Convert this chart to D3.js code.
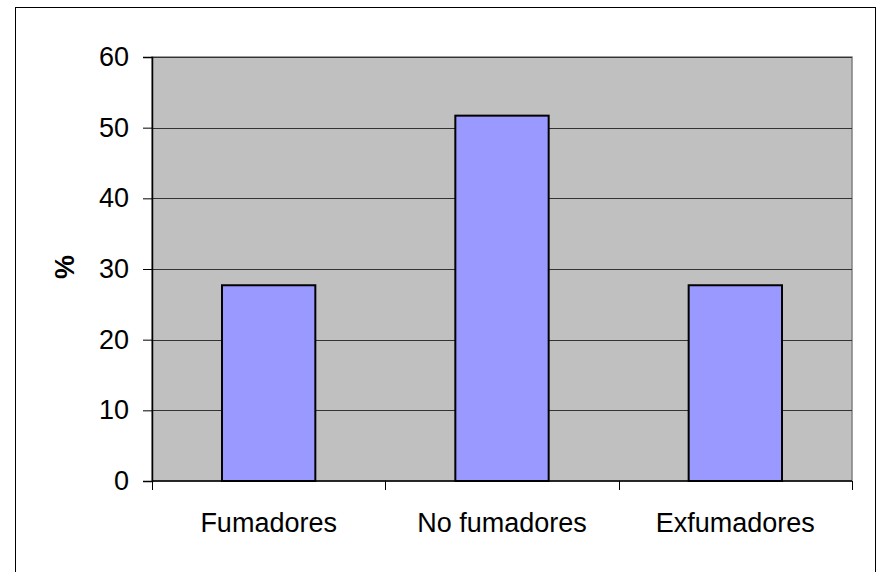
<!DOCTYPE html>
<html>
<head>
<meta charset="utf-8">
<script src="https://cdn.jsdelivr.net/npm/d3@7"></script>
<style>
  body { margin: 0; background: #fff; }
  svg text { font-family: "Liberation Sans", Arial, sans-serif; }
</style>
</head>
<body>
<div id="chart"></div>
<script>
// data
var categories = ["Fumadores", "No fumadores", "Exfumadores"];
var values = [27.7, 51.7, 27.7];
var yTicks = [0, 10, 20, 30, 40, 50, 60];

var width = 881, height = 572;
var plot = {left: 152, top: 57, right: 852, bottom: 481};
var fontSize = 27;

var svg = d3.select("#chart").append("svg")
    .attr("width", width)
    .attr("height", height);

// outer frame
svg.append("rect")
    .attr("x", 15.5).attr("y", 7.5)
    .attr("width", 860).attr("height", 580)
    .attr("fill", "none")
    .attr("stroke", "#000")
    .attr("stroke-width", 1);

var x = d3.scaleBand()
    .domain(categories)
    .range([plot.left, plot.right])
    .paddingInner(0.6)
    .paddingOuter(0.3);

var xOuter = d3.scaleBand()
    .domain(categories)
    .range([plot.left, plot.right]);

var y = d3.scaleLinear()
    .domain([0, 60])
    .range([plot.bottom, plot.top]);

// grey plot area
svg.append("rect")
    .attr("x", plot.left).attr("y", plot.top)
    .attr("width", plot.right - plot.left)
    .attr("height", plot.bottom - plot.top)
    .attr("fill", "#c0c0c0")
    .attr("stroke", "#808080")
    .attr("stroke-width", 1.5);

// gridlines
svg.selectAll("line.grid")
    .data(yTicks.filter(function(d) { return d > 0; }))
    .enter()
    .append("line")
    .attr("class", "grid")
    .attr("x1", plot.left).attr("x2", plot.right)
    .attr("y1", function(d) { return Math.round(y(d)) + 0.5; })
    .attr("y2", function(d) { return Math.round(y(d)) + 0.5; })
    .attr("stroke", "#333")
    .attr("stroke-width", 1);

// bars
svg.selectAll("rect.bar")
    .data(values)
    .enter()
    .append("rect")
    .attr("class", "bar")
    .attr("x", function(d, i) { return x(categories[i]); })
    .attr("y", function(d) { return y(d); })
    .attr("width", x.bandwidth())
    .attr("height", function(d) { return y(0) - y(d); })
    .attr("fill", "#9999ff")
    .attr("stroke", "#000")
    .attr("stroke-width", 2);

// y axis
var yAxis = svg.append("g")
    .attr("transform", "translate(" + plot.left + ",0)")
    .call(d3.axisLeft(y).tickValues(yTicks).tickSize(9).tickPadding(14));
yAxis.select(".domain").attr("stroke", "#000").attr("stroke-width", 1.5);
yAxis.selectAll(".tick line").attr("stroke", "#000");
yAxis.selectAll("text")
    .attr("font-size", fontSize)
    .attr("fill", "#000")
    .attr("font-family", "Liberation Sans, Arial, sans-serif");

// x axis: ticks at category boundaries
var xAxis = svg.append("g")
    .attr("transform", "translate(0," + plot.bottom + ")");
xAxis.append("line")
    .attr("x1", plot.left).attr("x2", plot.right)
    .attr("stroke", "#000").attr("stroke-width", 1.5);
var bounds = categories.map(function(c) { return xOuter(c); }).concat([plot.right]);
xAxis.selectAll("line.xtick")
    .data(bounds)
    .enter()
    .append("line")
    .attr("class", "xtick")
    .attr("x1", function(d) { return Math.round(d) + 0.5; })
    .attr("x2", function(d) { return Math.round(d) + 0.5; })
    .attr("y1", 0).attr("y2", 9)
    .attr("stroke", "#000");
xAxis.selectAll("text")
    .data(categories)
    .enter()
    .append("text")
    .attr("x", function(d) { return xOuter(d) + xOuter.bandwidth() / 2; })
    .attr("y", 51)
    .attr("text-anchor", "middle")
    .attr("font-size", fontSize)
    .text(function(d) { return d; });

// y title
svg.append("text")
    .attr("transform", "translate(74,267) rotate(-90)")
    .attr("text-anchor", "middle")
    .attr("font-size", fontSize)
    .attr("font-weight", "bold")
    .text("%");
</script>
</body>
</html>
